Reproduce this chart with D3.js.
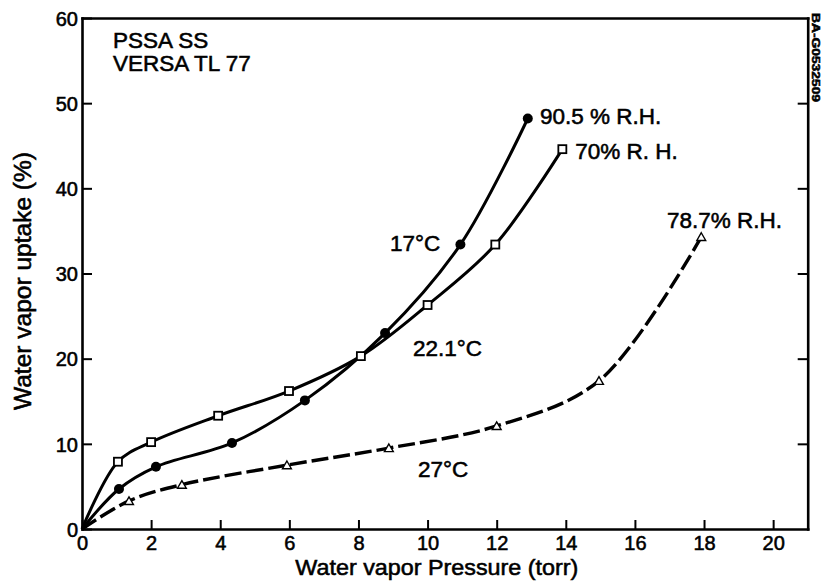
<!DOCTYPE html>
<html>
<head>
<meta charset="utf-8">
<script src="https://cdn.jsdelivr.net/npm/d3@7"></script>
<style>
  html, body { margin: 0; padding: 0; background: #fff; }
  svg { display: block; }
  text { font-family: "Liberation Sans", Arial, Helvetica, sans-serif; fill: #000; stroke: #000; stroke-width: 0.55px; }
</style>
</head>
<body>
<svg id="chart" width="821" height="581"></svg>
<script>
// ---- data ----
const xTicks = [0, 2, 4, 6, 8, 10, 12, 14, 16, 18, 20];
const yTicks = [0, 10, 20, 30, 40, 50, 60];

// 17°C, 90.5 % R.H. (filled circles) — origin is the curve's start
const s17x = [0, 1.07, 2.14, 4.34, 6.45, 8.77, 10.95, 12.9];
const s17y = [0, 4.7, 7.3, 10.1, 15.1, 23.0, 33.4, 48.2];

// 22.1°C, 70% R.H. (open squares)
const s22x = [0, 1.04, 2.0, 3.94, 5.99, 8.07, 10.0, 11.96, 13.9];
const s22y = [0, 7.9, 10.2, 13.3, 16.2, 20.3, 26.3, 33.4, 44.6];

// 27°C, 78.7% R.H. (open triangles, dashed)
const s27x = [0, 1.36, 2.89, 5.93, 8.88, 12.0, 14.96, 17.92];
const s27y = [0, 3.3, 5.2, 7.5, 9.5, 12.1, 17.4, 34.3];

const noteTexts = ["PSSA SS", "VERSA TL 77", "90.5 % R.H.", "70% R. H.", "78.7% R.H.", "17°C", "22.1°C", "27°C"];
const noteX = [0.9, 0.9, 13.25, 14.27, 16.93, 8.91, 9.58, 9.72];
const noteY = [56.5, 53.8, 47.6, 43.4, 35.4, 32.7, 20.3, 6.1];

const xTitle = "Water vapor Pressure (torr)";
const yTitle = "Water vapor uptake (%)";
const sideCode = "BA-G0532509";

// ---- layout ----
const svg = d3.select("#chart");
const L = 82, R = 807.7, T = 18, B = 529;
const x = d3.scaleLinear().domain([0, 21]).range([L, R]);
const y = d3.scaleLinear().domain([0, 60]).range([B, T]);

// axes
const axW = 2.6;
const gB = svg.append("g").attr("transform", `translate(0,${B})`)
  .call(d3.axisBottom(x).tickValues(xTicks).tickFormat(d3.format("d"))
        .tickSize(-9).tickSizeOuter(0).tickPadding(7));
const gL = svg.append("g").attr("transform", `translate(${L},0)`)
  .call(d3.axisLeft(y).tickValues(yTicks).tickFormat(d3.format("d"))
        .tickSize(-10).tickSizeOuter(0).tickPadding(4));
const gR = svg.append("g").attr("transform", `translate(${R},0)`)
  .call(d3.axisRight(y).tickValues(yTicks.slice(1, -1)).tickFormat("")
        .tickSize(-10).tickSizeOuter(0));
const gT = svg.append("g").attr("transform", `translate(0,${T})`)
  .call(d3.axisTop(x).tickValues([]).tickSizeOuter(0));

[gB, gL, gR, gT].forEach(g => {
  g.select(".domain").attr("stroke", "#000").attr("stroke-width", axW).attr("stroke-linecap", "square");
  g.selectAll(".tick line").attr("stroke", "#000").attr("stroke-width", 2);
  g.selectAll(".tick text").style("font-size", "20px").attr("fill", "#000");
});
gB.selectAll(".tick text").attr("dy", "0.72em");
gL.selectAll(".tick text").attr("dy", "0.36em");

// curves
const line = d3.line().x(d => x(d[0])).y(d => y(d[1])).curve(d3.curveCatmullRom.alpha(0.5));
const pts = (xs, ys) => xs.map((v, i) => [v, ys[i]]);

svg.append("path").datum(pts(s22x, s22y)).attr("d", line)
  .attr("fill", "none").attr("stroke", "#000").attr("stroke-width", 3);
svg.append("path").datum(pts(s17x, s17y)).attr("d", line)
  .attr("fill", "none").attr("stroke", "#000").attr("stroke-width", 3);
svg.append("path").datum(pts(s27x, s27y)).attr("d", line)
  .attr("fill", "none").attr("stroke", "#000").attr("stroke-width", 3.4)
  .attr("stroke-dasharray", "17,5");

// markers (origin is not a measured point)
svg.append("g").selectAll("circle").data(pts(s17x, s17y).slice(1)).join("circle")
  .attr("cx", d => x(d[0])).attr("cy", d => y(d[1])).attr("r", 5).attr("fill", "#000");

const sq = 8;
svg.append("g").selectAll("rect").data(pts(s22x, s22y).slice(1)).join("rect")
  .attr("x", d => x(d[0]) - sq / 2).attr("y", d => y(d[1]) - sq / 2)
  .attr("width", sq).attr("height", sq)
  .attr("fill", "#fff").attr("stroke", "#000").attr("stroke-width", 1.8);

const tri = d3.symbol().type(d3.symbolTriangle).size(34);
svg.append("g").selectAll("path").data(pts(s27x, s27y).slice(1)).join("path")
  .attr("d", tri).attr("transform", d => `translate(${x(d[0])},${y(d[1]) + 1})`)
  .attr("fill", "#fff").attr("stroke", "#000").attr("stroke-width", 1.4);

// annotations
svg.append("g").selectAll("text").data(noteTexts).join("text")
  .attr("x", (d, i) => x(noteX[i])).attr("y", (d, i) => y(noteY[i]))
  .style("font-size", "22.5px").text(d => d);

// axis titles
svg.append("text").attr("x", (L + R) / 2 - 8).attr("y", 575)
  .attr("text-anchor", "middle").style("font-size", "22px")
  .attr("textLength", 283).attr("lengthAdjust", "spacingAndGlyphs")
  .text(xTitle);
svg.append("text").attr("transform", "translate(31,281) rotate(-90)")
  .attr("text-anchor", "middle").style("font-size", "23px")
  .attr("textLength", 258).attr("lengthAdjust", "spacingAndGlyphs")
  .text(yTitle);

// side code
svg.append("text").attr("transform", "translate(812,13) rotate(90)")
  .style("font-size", "11.5px").style("font-weight", "bold")
  .attr("textLength", 89).attr("lengthAdjust", "spacingAndGlyphs")
  .text(sideCode);
</script>
</body>
</html>
